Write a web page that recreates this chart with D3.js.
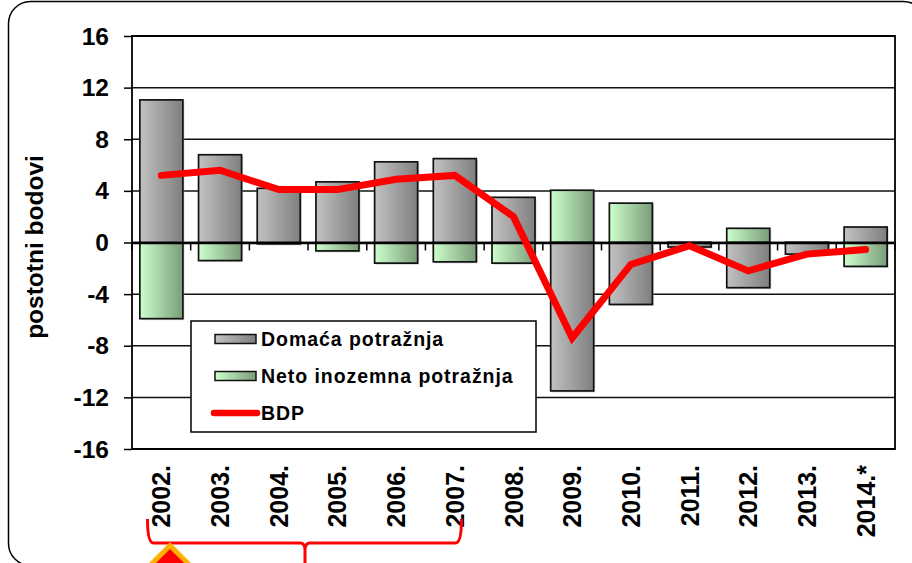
<!DOCTYPE html>
<html><head><meta charset="utf-8">
<script src="https://cdn.jsdelivr.net/npm/d3@7/dist/d3.min.js"></script>
<style>
html,body{margin:0;padding:0;background:#fff;overflow:hidden}
text{font-family:"Liberation Sans",Arial,sans-serif;font-weight:bold;fill:#000}
</style></head><body><svg id="c" width="912" height="563"></svg>
<script>
const years=["2002.","2003.","2004.","2005.","2006.","2007.","2008.","2009.","2010.","2011.","2012.","2013.","2014.*"];
const domestic=[11.05,6.8,4.2,4.7,6.25,6.5,3.5,-11.5,-4.8,-0.35,-3.5,-0.9,1.2];
const netForeign=[-5.9,-1.4,-0.1,-0.65,-1.6,-1.5,-1.6,4.05,3.05,-0.1,1.1,-0.1,-1.85];
const gdp=[5.2,5.6,4.1,4.1,4.9,5.2,2.0,-7.4,-1.7,-0.25,-2.2,-0.9,-0.55];
const yTicks=[16,12,8,4,0,-4,-8,-12,-16];
const legendItems=["Domaća potražnja","Neto inozemna potražnja","BDP"];

const svg=d3.select("#c");
const defs=svg.append("defs");
function grad(id,a,b){const g=defs.append("linearGradient").attr("id",id);
  g.append("stop").attr("offset","0").attr("stop-color",a);
  g.append("stop").attr("offset","1").attr("stop-color",b);}
grad("gGrey","#c2c2c2","#7f7f7f");
grad("gGreen","#ccffcc","#7a9c7a");

svg.append("rect").attr("x",8.5).attr("y",1.5).attr("width",917).attr("height",564).attr("rx",22)
  .attr("fill","#fff").attr("stroke","#000").attr("stroke-width",1.5);

const L=132,R=895,T=36,B=449;
const x=d3.scaleBand().domain(years).range([L,R]).paddingInner(0.267).paddingOuter(0.134);
const y=d3.scaleLinear().domain([-16,16]).range([B,T]);

const yAxis=d3.axisLeft(y).tickValues(yTicks).tickSize(8).tickPadding(15).tickFormat(d=>d);
const gy=svg.append("g").attr("transform",`translate(${L},0)`).call(yAxis);
gy.select(".domain").remove();
gy.selectAll("line").attr("stroke","#000").attr("stroke-width",1.5);
gy.selectAll("text").style("font-size","24.5px").attr("dy","0.33em");
svg.append("g").selectAll("line").data(yTicks).join("line")
  .attr("x1",L).attr("x2",R).attr("y1",d=>y(d)).attr("y2",d=>y(d))
  .attr("stroke","#111").attr("stroke-width",1.5);

function bars(data,fill){
  const g=svg.append("g");
  g.selectAll("rect.s").data(data).join("rect").attr("class","s")
    .attr("x",(d,i)=>x(years[i])+1.5).attr("width",x.bandwidth())
    .attr("y",d=>Math.min(y(0),y(d))+1.5).attr("height",d=>Math.abs(y(d)-y(0)))
    .attr("fill","#aaa").attr("opacity",0.55);
  g.selectAll("rect.b").data(data).join("rect").attr("class","b")
    .attr("x",(d,i)=>x(years[i])).attr("width",x.bandwidth())
    .attr("y",d=>Math.min(y(0),y(d))).attr("height",d=>Math.abs(y(d)-y(0)))
    .attr("fill",fill).attr("stroke","#111").attr("stroke-width",1.7);
}
bars(netForeign,"url(#gGreen)");
bars(domestic,"url(#gGrey)");

svg.append("path").attr("d",`M${L},${T}H${R}V${B}H${L}Z`).attr("fill","none").attr("stroke","#000").attr("stroke-width",1.8);

const step=x.step();
const xAxis=d3.axisBottom(x).tickSize(0).tickFormat("");
const gx=svg.append("g").attr("transform",`translate(0,${y(0)})`).call(xAxis);
gx.select(".domain").attr("stroke","#000").attr("stroke-width",2.5);
gx.selectAll(".edge").data(d3.range(years.length+1)).join("line").attr("class","edge")
  .attr("x1",i=>L+i*step).attr("x2",i=>L+i*step).attr("y1",0).attr("y2",8)
  .attr("stroke","#000").attr("stroke-width",1.5);

const line=d3.line().x((d,i)=>x(years[i])+x.bandwidth()/2).y(d=>y(d));
svg.append("path").datum(gdp).attr("d",line).attr("fill","none")
  .attr("stroke","#ff0000").attr("stroke-width",7).attr("stroke-linecap","round").attr("stroke-linejoin","miter");

svg.append("g").selectAll("text").data(years).join("text")
  .attr("transform",d=>`translate(${x(d)+x.bandwidth()/2+9},465) rotate(-90)`)
  .attr("text-anchor","end")
  .style("font-size","25px").text(d=>d);

svg.append("text").attr("transform","translate(43,247) rotate(-90)").attr("text-anchor","middle")
  .style("font-size","24.5px").text("postotni bodovi");

const lg=svg.append("g");
lg.append("rect").attr("x",191).attr("y",321).attr("width",345).attr("height",111)
  .attr("fill","#fff").attr("stroke","#000").attr("stroke-width",1.5);
const ly=[339,376,413];
lg.selectAll("text").data(legendItems).join("text").attr("x",261).attr("y",(d,i)=>ly[i]+7)
  .style("font-size","19.5px").style("letter-spacing","0.95px").text(d=>d);
[["url(#gGrey)",0],["url(#gGreen)",1]].forEach(([f,i])=>{
  lg.append("rect").attr("x",215).attr("y",ly[i]-4.5).attr("width",41).attr("height",9)
    .attr("fill",f).attr("stroke","#111").attr("stroke-width",1.5);
});
lg.append("line").attr("x1",214).attr("x2",257).attr("y1",ly[2]).attr("y2",ly[2])
  .attr("stroke","#ff0000").attr("stroke-width",6.5).attr("stroke-linecap","round");

const bx0=147.5, bx1=461.5, bm=305;
svg.append("path").attr("fill","none").attr("stroke","#ff0000").attr("stroke-width",3)
  .attr("d",`M${bx0},519 Q${bx0},543 ${bx0+6},543 H${bm-5} Q${bm},543 ${bm},550 V563 M${bm},550 Q${bm},543 ${bm+5},543 H${bx1-6} Q${bx1},543 ${bx1},519`);

svg.append("path").attr("d","M170,542 L203,575 L170,608 L137,575 Z").attr("fill","#ffb000");
svg.append("path").attr("d","M170,549 L196,575 L170,601 L144,575 Z").attr("fill","#ff0000");
</script></body></html>
